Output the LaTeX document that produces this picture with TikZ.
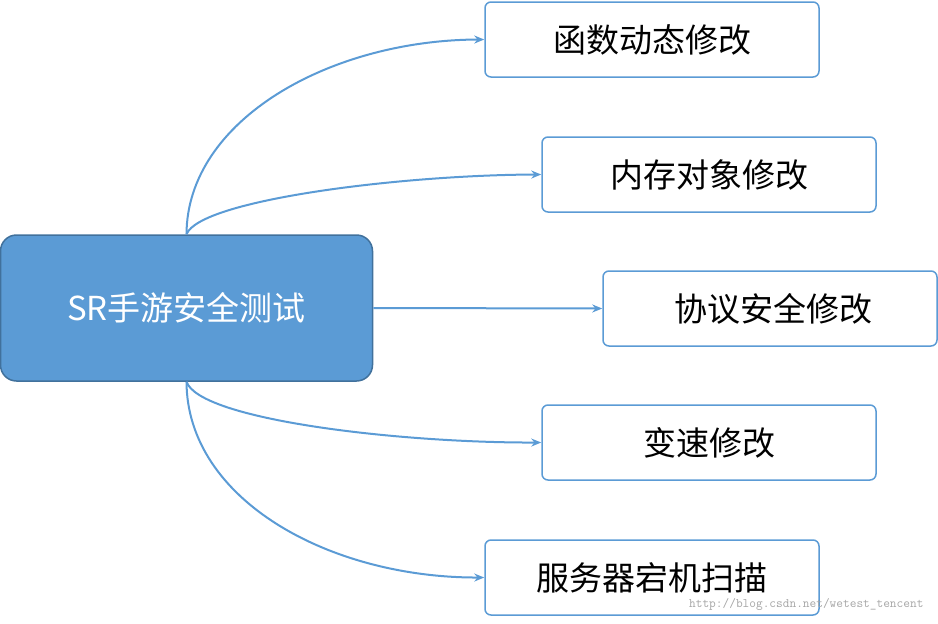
\documentclass[tikz,border=0pt]{standalone}
\usepackage{fontspec}
\setmainfont{Noto Sans CJK SC}
\usetikzlibrary{positioning, calc, arrows.meta}
\definecolor{rootblue}{HTML}{5B9BD5}
\definecolor{rootline}{HTML}{41719C}
\begin{document}
\begin{tikzpicture}[x=1pt, y=-1pt,
    leaf/.style={draw=rootblue, line width=1.5pt, rounded corners=6pt, fill=white,
        minimum width=334pt, minimum height=75pt, font=\fontsize{33}{38}\selectfont},
    link/.style={draw=rootblue, line width=2pt, -{Stealth[length=10pt, width=8pt]}}]

    \useasboundingbox (0, 0) rectangle (938, 624);

    \node [draw=rootline, line width=1.5pt, fill=rootblue, rounded corners=16pt,
        minimum width=372pt, minimum height=146pt, text=white,
        font=\fontsize{33}{38}\selectfont] (root) at (186.5, 308) {SR手游安全测试};

    \node [leaf] (func) at (652, 39.5) {函数动态修改};
    \node [leaf] (mem) at (709, 174.5) {内存对象修改};
    \node [leaf] (proto) at (770, 308.5) {\hspace{6pt}协议安全修改};
    \node [leaf] (speed) at (709, 442.5) {变速修改};
    \node [leaf] (server) at (652, 577.5) {服务器宕机扫描};

    \draw [link] (root.north) .. controls (187, 120) and (330, 40) .. (func.west);
    \draw [link] (root.north) .. controls (200, 200) and (400, 175) .. (mem.west);
    \draw [link] (root.east) -- (proto.west);
    \draw [link] (root.south) .. controls (200, 420) and (400, 443) .. (speed.west);
    \draw [link] (root.south) .. controls (187, 500) and (330, 578) .. (server.west);

    \node [text=gray!70, font=\ttfamily\fontsize{13}{15}\selectfont, anchor=east]
        (mark) at (927, 604) {http://blog.csdn.net/wetest\_tencent};
\end{tikzpicture}
\end{document}
